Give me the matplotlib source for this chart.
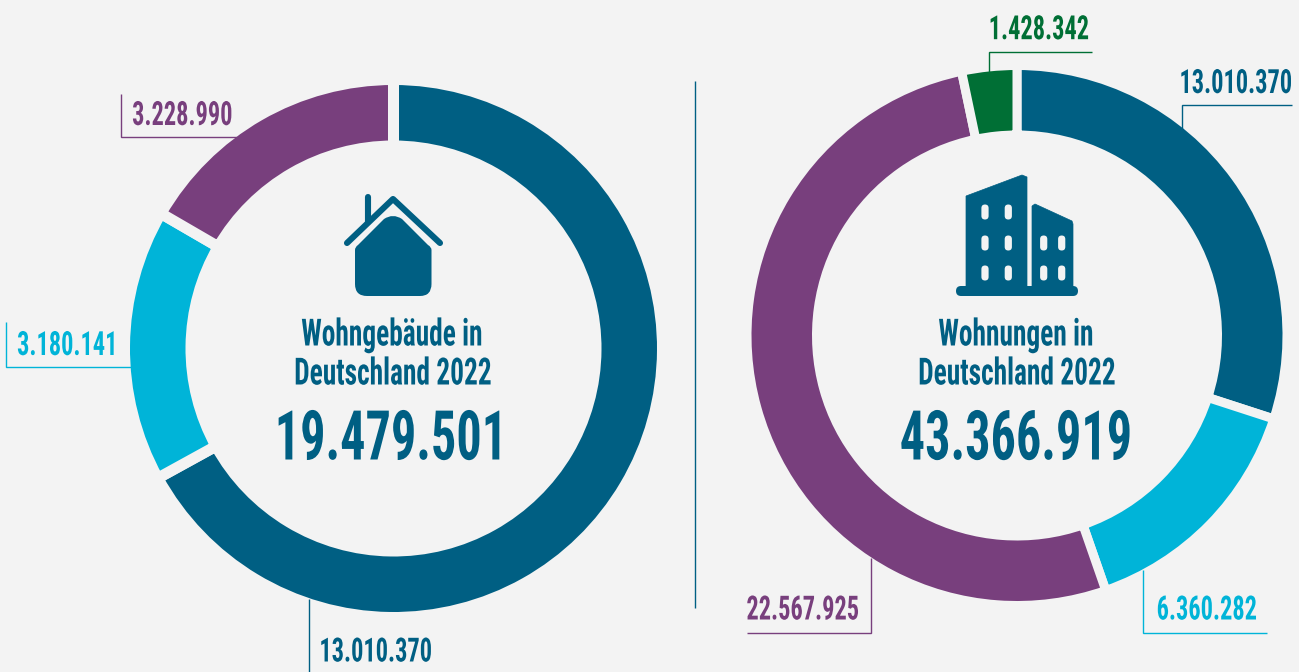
import matplotlib

matplotlib.use("Agg")
import matplotlib.pyplot as plt
from matplotlib.patches import FancyBboxPatch, PathPatch
from matplotlib.patheffects import AbstractPathEffect
from matplotlib.path import Path
from matplotlib.transforms import Affine2D

BG = "#f3f3f3"
DARK = "#005f83"
CYAN = "#00b4d8"
PURPLE = "#783f7d"
GREEN = "#006f35"

H = 672
FONT = ["Liberation Sans Narrow", "Roboto Condensed", "Liberation Sans", "DejaVu Sans"]

# Wohngebaeude
gebaeude = [13010370, 3180141, 3228990]
gebaeude_colors = [DARK, CYAN, PURPLE]
gebaeude_labels = ["13.010.370", "3.180.141", "3.228.990"]
gebaeude_total = "19.479.501"
gebaeude_title = ["Wohngebäude in", "Deutschland 2022"]

# Wohnungen
wohnungen = [13010370, 6360282, 22567925, 1428342]
wohnungen_colors = [DARK, CYAN, PURPLE, GREEN]
wohnungen_labels = ["13.010.370", "6.360.282", "22.567.925", "1.428.342"]
wohnungen_total = "43.366.919"
wohnungen_title = ["Wohnungen in", "Deutschland 2022"]


class Squeeze(AbstractPathEffect):
    # the source font is condensed DIN, so narrow the glyphs around the anchor
    def __init__(self, cx, factor):
        super().__init__()
        self.cx = cx
        self.factor = factor

    def draw_path(self, renderer, gc, tpath, affine, rgbFace=None):
        squeeze = Affine2D().translate(-self.cx, 0).scale(self.factor, 1).translate(self.cx, 0)
        renderer.draw_path(gc, tpath, affine + squeeze, rgbFace)


def put_text(ax, x, y, s, color, size, factor=0.73, ha="center"):
    t = ax.text(x, H - y, s, color=color, fontsize=size, family=FONT, weight="bold",
                ha=ha, va="center_baseline")
    t.set_path_effects([Squeeze(x, factor)])
    return t


def leader(ax, xs, ys, color):
    ax.plot(xs, [H - y for y in ys], color=color, lw=1.0, solid_joinstyle="miter",
            solid_capstyle="butt", zorder=3)


def donut(ax, values, colors, cx, cy, outer, inner, gap):
    # the background coloured edge eats half the gap on each side of the ring
    ax.pie(values, colors=colors, startangle=90, counterclock=False,
           center=(cx, H - cy), radius=outer + gap / 2,
           wedgeprops={"width": outer - inner + gap, "edgecolor": BG, "linewidth": gap * 0.72})


def P(x, y):
    return (x, H - y)


def house(ax, color):
    roof = [P(347, 243), P(393, 199), P(440, 243)]
    ax.plot(*zip(*roof), color=color, lw=4.4, solid_capstyle="round", solid_joinstyle="round")
    ax.plot(*zip(P(368, 197), P(368, 222)), color=color, lw=4.4, solid_capstyle="round")
    verts = [P(355, 250), P(355, 247), P(358, 245), P(384, 219), P(393, 213), P(402, 219),
             P(428, 245), P(431.5, 247), P(431.5, 250), P(431.5, 284), P(431.5, 296), P(420, 296),
             P(367, 296), P(355, 296), P(355, 284), P(355, 250)]
    codes = [Path.MOVETO, Path.CURVE3, Path.CURVE3, Path.LINETO, Path.CURVE3, Path.CURVE3,
             Path.LINETO, Path.CURVE3, Path.CURVE3, Path.LINETO, Path.CURVE3, Path.CURVE3,
             Path.LINETO, Path.CURVE3, Path.CURVE3, Path.CLOSEPOLY]
    ax.add_patch(PathPatch(Path(verts, codes), fc=color, ec="none"))


def building(ax, color):
    left = [P(966, 196), P(1022, 175), P(1027, 177), P(1027, 288), P(966, 288), P(966, 196)]
    right = [P(1032, 206), P(1035, 204), P(1072, 221), P(1073, 224), P(1073, 288), P(1032, 288), P(1032, 206)]
    ax.add_patch(PathPatch(Path(left), fc=color, ec=color, lw=0.5))
    ax.add_patch(PathPatch(Path(right), fc=color, ec=color, lw=0.5))
    ax.add_patch(FancyBboxPatch((956, H - 296), 122, 10, boxstyle="round,pad=0,rounding_size=5",
                                fc=color, ec="none"))
    for wx in [985, 1008.3]:
        for wy in [212, 243, 273]:
            window(ax, wx, wy)
    for wx in [1043.7, 1061.7]:
        for wy in [243, 273]:
            window(ax, wx, wy)


def window(ax, wx, wy):
    ax.add_patch(FancyBboxPatch((wx - 3.6, H - wy - 7.5), 7.2, 15, boxstyle="round,pad=0,rounding_size=3.6",
                                fc=BG, ec="none"))


fig = plt.figure(figsize=(12.99, 6.72), dpi=100, facecolor=BG)
ax = fig.add_axes([0, 0, 1, 1])

donut(ax, gebaeude, gebaeude_colors, 393.5, 348.5, 263.5, 208, 11)
donut(ax, wohnungen, wohnungen_colors, 1017, 335.5, 265.5, 205, 9)
ax.set_xlim(0, 1299)
ax.set_ylim(0, H)
ax.axis("off")

leader(ax, [121, 121, 237], [94, 137, 137], PURPLE)
leader(ax, [6.5, 6.5, 132], [322, 367, 367], CYAN)
leader(ax, [309, 309], [599, 672], DARK)
leader(ax, [695, 695], [81, 608], DARK)
leader(ax, [1182, 1182, 1292], [129, 105, 105], DARK)
leader(ax, [989.5, 989.5, 1092], [73, 52, 52], GREEN)
leader(ax, [1143, 1143, 1267], [570, 633, 633], CYAN)
leader(ax, [871, 871, 747], [558, 633, 633], PURPLE)

house(ax, DARK)
building(ax, DARK)

put_text(ax, 392, 331, gebaeude_title[0], DARK, 27)
put_text(ax, 393, 370, gebaeude_title[1], DARK, 27)
put_text(ax, 391, 434, gebaeude_total, DARK, 49.5)
put_text(ax, 1016, 331, wohnungen_title[0], DARK, 27)
put_text(ax, 1017, 370, wohnungen_title[1], DARK, 27)
put_text(ax, 1016, 434, wohnungen_total, DARK, 49.5)

put_text(ax, 182.5, 112.5, gebaeude_labels[2], PURPLE, 24)
put_text(ax, 67.5, 342.5, gebaeude_labels[1], CYAN, 24)
put_text(ax, 376, 649, gebaeude_labels[0], DARK, 24)
put_text(ax, 1292.7, 80.5, wohnungen_labels[0], DARK, 24, ha="right")
put_text(ax, 1039, 26.7, wohnungen_labels[3], GREEN, 24)
put_text(ax, 1207, 607, wohnungen_labels[1], CYAN, 24)
put_text(ax, 803, 607, wohnungen_labels[2], PURPLE, 24)

fig.savefig("out.png", dpi=100, facecolor=BG)
